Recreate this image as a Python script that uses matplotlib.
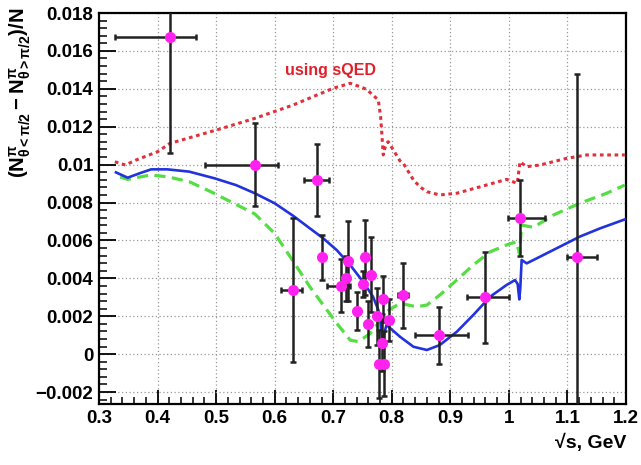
import matplotlib
matplotlib.use("Agg")
import matplotlib.pyplot as plt
from matplotlib.ticker import MultipleLocator, FixedLocator

plt.rcParams['font.family'] = ['Liberation Sans', 'DejaVu Sans']
plt.rcParams['mathtext.fontset'] = 'custom'
plt.rcParams['mathtext.rm'] = 'Liberation Sans'
plt.rcParams['mathtext.bf'] = 'Liberation Sans:bold'
plt.rcParams['mathtext.it'] = 'Liberation Sans:italic:bold'

# ---- data points ----
pt_x = [0.421, 0.566, 0.631, 0.673, 0.680, 0.714, 0.721, 0.725, 0.740, 0.750,
        0.755, 0.760, 0.764, 0.774, 0.7855, 0.7827, 0.7787, 0.7867, 0.7958,
        0.819, 0.881, 0.959, 1.019, 1.116]
pt_y = [0.01673, 0.0100, 0.0034, 0.0092, 0.0051, 0.0036, 0.0040, 0.0049, 0.0023, 0.0037,
        0.0051, 0.0016, 0.0042, 0.0020, 0.0029, 0.0006, -0.0005, -0.0005, 0.0018,
        0.0031, 0.0010, 0.0030, 0.0072, 0.0051]
pt_yerr = [0.0061, 0.0022, 0.0038, 0.0019, 0.0012, 0.0014, 0.0012, 0.0021, 0.0010, 0.0007,
           0.0020, 0.0012, 0.0020, 0.0015, 0.0012, 0.0015, 0.0018, 0.0017, 0.0011,
           0.0017, 0.0015, 0.0024, 0.0020, 0.0097]
pt_xlo = [0.327, 0.481, 0.610, 0.650, 0.680, 0.689, 0.721, 0.725, 0.740, 0.750,
          0.755, 0.760, 0.764, 0.774, 0.7855, 0.7827, 0.7787, 0.7867, 0.7958,
          0.810, 0.840, 0.929, 0.999, 1.099]
pt_xhi = [0.466, 0.606, 0.646, 0.692, 0.680, 0.729, 0.721, 0.725, 0.740, 0.750,
          0.755, 0.760, 0.764, 0.774, 0.7855, 0.7827, 0.7787, 0.7867, 0.7958,
          0.828, 0.930, 1.001, 1.061, 1.150]

# ---- curves ----
blue_x = [0.329, 0.349, 0.370, 0.389, 0.417, 0.454, 0.497, 0.534, 0.566, 0.600,
          0.632, 0.660, 0.683, 0.706, 0.729, 0.751, 0.768, 0.777, 0.781, 0.7835,
          0.785, 0.788, 0.791, 0.814, 0.837, 0.860, 0.882, 0.911, 0.939, 0.968,
          0.996, 1.0105, 1.015, 1.0178, 1.0195, 1.0218, 1.0304, 1.053, 1.087,
          1.121, 1.156, 1.198]
blue_y = [0.00959, 0.00931, 0.00955, 0.00975, 0.00975, 0.00963, 0.00928, 0.00892, 0.00849, 0.00796,
          0.00729, 0.00664, 0.00611, 0.00549, 0.00470, 0.00382, 0.00303, 0.00233, 0.00170, 0.00090,
          0.00074, 0.00120, 0.00154, 0.00092, 0.00039, 0.00022, 0.00048, 0.00118, 0.00206, 0.00303,
          0.00365, 0.00391, 0.00370, 0.00289, 0.00350, 0.00497, 0.00479, 0.00514, 0.00567,
          0.00620, 0.00664, 0.00711]

green_x = [0.336, 0.349, 0.370, 0.389, 0.417, 0.454, 0.491, 0.534, 0.566, 0.600,
           0.632, 0.660, 0.683, 0.706, 0.729, 0.743, 0.763, 0.777, 0.781, 0.785,
           0.791, 0.814, 0.8425, 0.860, 0.882, 0.911, 0.939, 0.968, 0.996, 1.013,
           1.018, 1.0218, 1.042, 1.076, 1.121, 1.167, 1.198]
green_y = [0.00935, 0.00922, 0.00935, 0.00945, 0.00936, 0.00910, 0.00857, 0.00790, 0.00740, 0.00637,
           0.00488, 0.00356, 0.00259, 0.00163, 0.00074, 0.00066, 0.00109, 0.00163, 0.00120, 0.00200,
           0.00225, 0.00268, 0.00250, 0.00259, 0.00312, 0.00391, 0.00470, 0.00540, 0.00576, 0.00593,
           0.00530, 0.00681, 0.00669, 0.00734, 0.00796, 0.00849, 0.00892]

red_x = [0.327, 0.345, 0.363, 0.400, 0.421, 0.501, 0.566, 0.632, 0.700, 0.729,
         0.746, 0.757, 0.777, 0.781, 0.7855, 0.7875, 0.791, 0.794, 0.800, 0.814,
         0.8197, 0.837, 0.848, 0.860, 0.882, 0.911, 0.951, 0.996, 1.0143, 1.019,
         1.0304, 1.053, 1.0986, 1.133, 1.198]
red_y = [0.01015, 0.00998, 0.01024, 0.01068, 0.01112, 0.01183, 0.01244, 0.01315, 0.01403, 0.01429,
         0.01411, 0.01397, 0.01341, 0.01250, 0.01051, 0.01080, 0.01112, 0.01121, 0.01090, 0.01020,
         0.01007, 0.00919, 0.00883, 0.00857, 0.00840, 0.00849, 0.00883, 0.00922, 0.00901, 0.01015,
         0.00989, 0.00998, 0.01033, 0.01051, 0.01051]

x_ticks = [0.3, 0.4, 0.5, 0.6, 0.7, 0.8, 0.9, 1.0, 1.1, 1.2]
x_ticklabels = ['0.3', '0.4', '0.5', '0.6', '0.7', '0.8', '0.9', '1', '1.1', '1.2']
y_ticks = [-0.002, 0.0, 0.002, 0.004, 0.006, 0.008, 0.010, 0.012, 0.014, 0.016, 0.018]
y_ticklabels = ['\u22120.002', '0', '0.002', '0.004', '0.006', '0.008', '0.01',
                '0.012', '0.014', '0.016', '0.018']

fig = plt.figure(figsize=(6.41, 4.65), dpi=100)
ax = fig.add_axes([99/641, 1-404/465, (626-99)/641, (404-13)/465])

ax.set_xlim(0.3, 1.2)
ax.set_ylim(-0.00263, 0.018)

ax.grid(True, which='major', color='#999999', linestyle=(0, (1, 2)), linewidth=0.9)
ax.set_axisbelow(True)

ax.plot(red_x, red_y, color='#e0303a', linestyle=(0, (1.2, 1.2)), linewidth=2.2, zorder=3)
ax.plot(green_x, green_y, color='#55dd44', linestyle=(0, (3.5, 2)), linewidth=2.3, zorder=3)
ax.plot(blue_x, blue_y, color='#2233dd', linewidth=1.9, zorder=3)

xerr_lo = [x - lo for x, lo in zip(pt_x, pt_xlo)]
xerr_hi = [hi - x for x, hi in zip(pt_x, pt_xhi)]
ax.errorbar(pt_x, pt_y, yerr=pt_yerr, xerr=[xerr_lo, xerr_hi], fmt='o',
            color='#222222', ecolor='#222222', elinewidth=1.8, capsize=2.5, capthick=1.8,
            markerfacecolor='#ff22ee', markeredgecolor='#ff22ee', markersize=7, zorder=4)

ax.text(0.6945, 0.01499, 'using sQED', color='#e0202a', fontsize=11.5, fontweight='bold',
        ha='center', va='center')

ax.xaxis.set_major_locator(FixedLocator(x_ticks))
ax.set_xticklabels(x_ticklabels)
ax.xaxis.set_minor_locator(MultipleLocator(0.02))
ax.yaxis.set_major_locator(FixedLocator(y_ticks))
ax.set_yticklabels(y_ticklabels)
ax.yaxis.set_minor_locator(MultipleLocator(0.0004))

ax.tick_params(which='major', direction='in', length=12, width=1.3, labelsize=13.5, pad=4)
ax.tick_params(axis='x', which='major', length=10)
ax.tick_params(which='minor', direction='in', length=6, width=1.1)
ax.tick_params(axis='x', which='minor', length=5)
for lab in ax.get_xticklabels() + ax.get_yticklabels():
    lab.set_fontweight('bold')
for sp in ax.spines.values():
    sp.set_linewidth(1.6)

ax.set_xlabel('\u221as, GeV', fontsize=14, fontweight='bold', loc='right', labelpad=5)
fig.text(20/641, 1-8/465,
         r'$\mathbf{(N^{\pi}_{\theta<\pi/2}-N^{\pi}_{\theta>\pi/2})/N}$',
         rotation=90, ha='center', va='top', fontsize=14.5)

fig.savefig('out.png', dpi=100)
